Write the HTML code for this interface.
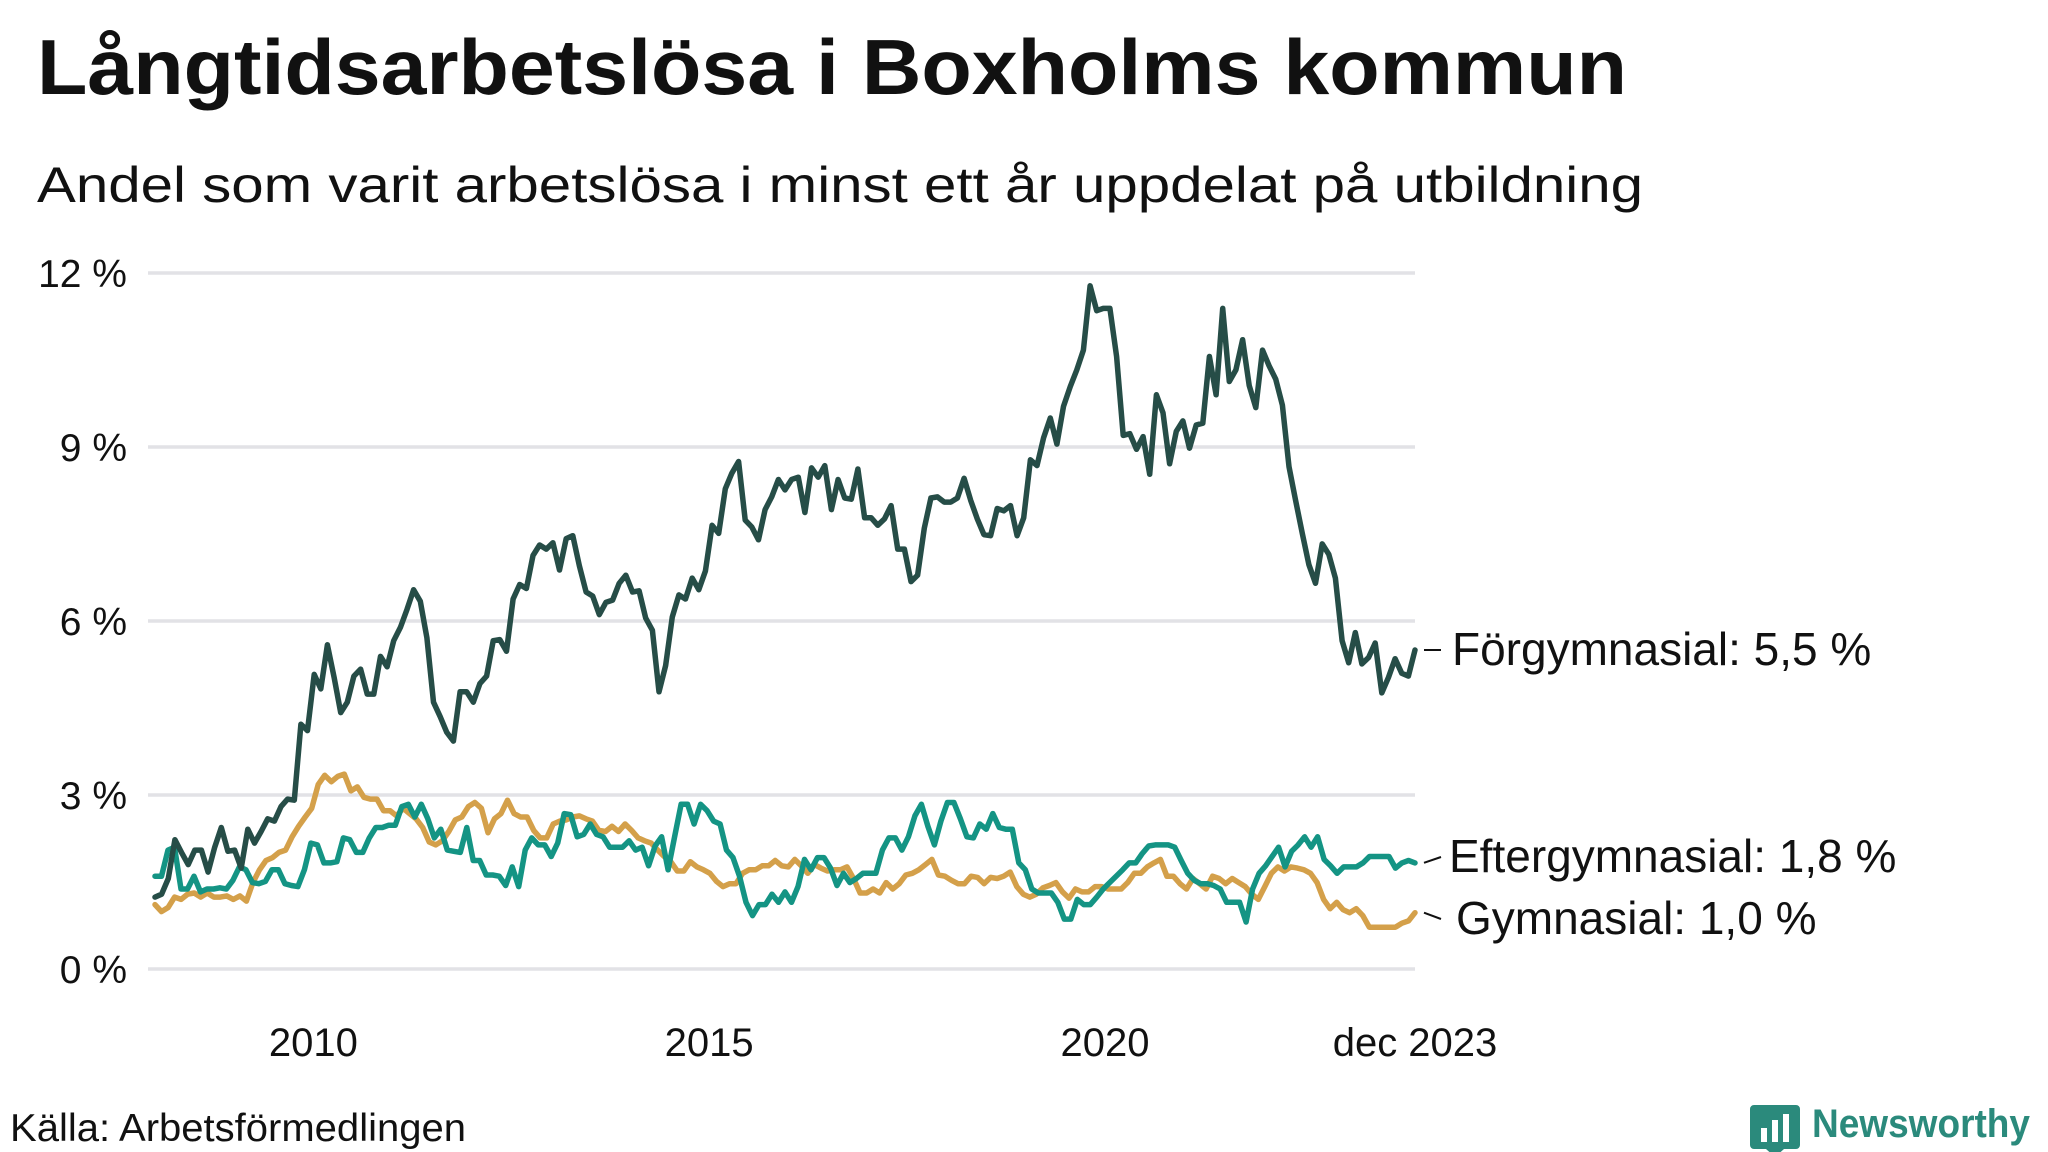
<!DOCTYPE html>
<html><head><meta charset="utf-8"><style>
html,body{margin:0;padding:0;background:#fff;}
svg{display:block;font-family:"Liberation Sans","DejaVu Sans",sans-serif;}
</style></head><body>
<svg id="chart" width="2048" height="1152" viewBox="0 0 2048 1152" xmlns="http://www.w3.org/2000/svg">
<text x="37" y="94" font-size="78" font-weight="bold" fill="#111" textLength="1590" lengthAdjust="spacingAndGlyphs">Långtidsarbetslösa i Boxholms kommun</text>
<text x="37" y="202" font-size="50" fill="#111" textLength="1606" lengthAdjust="spacingAndGlyphs">Andel som varit arbetslösa i minst ett år uppdelat på utbildning</text>
<g id="grid"></g><g id="series"></g><g id="labels"></g>
<text x="10" y="1141" font-size="39" fill="#111" textLength="456" lengthAdjust="spacingAndGlyphs">Källa: Arbetsförmedlingen</text>
<g>
<path d="M1754 1105 h42 a4 4 0 0 1 4 4 v36 a4 4 0 0 1 -4 4 h-12 l-9 8 l-9 -8 h-12 a4 4 0 0 1 -4 -4 v-36 a4 4 0 0 1 4 -4z" fill="#2b8a7c"/>
<rect x="1761" y="1128" width="6" height="14" fill="#fff"/><rect x="1772" y="1120" width="6" height="22" fill="#fff"/><rect x="1783" y="1114" width="6" height="28" fill="#fff"/>
<text x="1812" y="1137" font-size="40" font-weight="bold" fill="#2b8a7c" textLength="218" lengthAdjust="spacingAndGlyphs">Newsworthy</text>
</g>
</svg>
<script>
const yTicks=[0,3,6,9,12];
const xTickLabels=["2010","2015","2020","dec 2023"];
const xTickMonths=[24,84,144,191];
const forgymnasial=[1.24,1.29,1.56,2.23,2.01,1.80,2.05,2.05,1.67,2.10,2.44,2.03,2.05,1.74,2.41,2.17,2.37,2.59,2.55,2.80,2.93,2.91,4.22,4.11,5.08,4.83,5.59,5.03,4.42,4.60,5.05,5.17,4.74,4.74,5.39,5.21,5.66,5.89,6.20,6.54,6.34,5.71,4.60,4.35,4.08,3.93,4.78,4.78,4.60,4.92,5.05,5.66,5.68,5.48,6.38,6.63,6.56,7.13,7.31,7.24,7.35,6.88,7.42,7.47,6.95,6.50,6.43,6.11,6.32,6.36,6.65,6.79,6.50,6.52,6.05,5.84,4.78,5.23,6.07,6.45,6.38,6.74,6.54,6.86,7.65,7.51,8.28,8.55,8.75,7.74,7.62,7.40,7.92,8.14,8.44,8.26,8.44,8.48,7.87,8.64,8.48,8.68,7.92,8.44,8.12,8.10,8.62,7.78,7.78,7.65,7.76,7.99,7.24,7.24,6.68,6.79,7.60,8.12,8.14,8.05,8.05,8.12,8.46,8.08,7.76,7.49,7.47,7.94,7.90,7.99,7.47,7.78,8.78,8.68,9.16,9.50,9.05,9.70,10.04,10.33,10.67,11.78,11.35,11.39,11.39,10.56,9.20,9.23,8.96,9.18,8.53,9.90,9.59,8.71,9.27,9.45,8.98,9.38,9.41,10.56,9.90,11.39,10.13,10.33,10.85,10.06,9.68,10.67,10.40,10.17,9.72,8.66,8.08,7.51,6.97,6.65,7.33,7.15,6.74,5.66,5.28,5.80,5.26,5.37,5.62,4.76,5.03,5.35,5.10,5.05,5.50];
const eftergymnasial=[1.60,1.60,2.05,2.10,1.38,1.38,1.60,1.33,1.38,1.38,1.40,1.38,1.53,1.76,1.71,1.49,1.47,1.51,1.71,1.71,1.47,1.44,1.42,1.71,2.17,2.14,1.83,1.83,1.85,2.26,2.23,2.01,2.01,2.26,2.44,2.44,2.48,2.48,2.80,2.84,2.62,2.84,2.59,2.26,2.41,2.05,2.03,2.01,2.44,1.87,1.87,1.62,1.62,1.60,1.44,1.76,1.42,2.05,2.26,2.14,2.14,1.94,2.17,2.68,2.66,2.28,2.32,2.50,2.32,2.28,2.10,2.10,2.10,2.21,2.05,2.10,1.78,2.12,2.28,1.71,2.28,2.84,2.84,2.50,2.84,2.73,2.55,2.50,2.05,1.92,1.60,1.15,0.92,1.11,1.11,1.29,1.15,1.33,1.15,1.42,1.89,1.71,1.92,1.92,1.74,1.44,1.65,1.49,1.56,1.65,1.65,1.65,2.05,2.26,2.26,2.05,2.28,2.64,2.84,2.46,2.14,2.55,2.87,2.87,2.59,2.28,2.26,2.50,2.41,2.68,2.44,2.41,2.41,1.83,1.71,1.38,1.31,1.31,1.31,1.15,0.86,0.86,1.20,1.11,1.11,1.24,1.38,1.49,1.60,1.71,1.83,1.83,1.99,2.12,2.14,2.14,2.14,2.10,1.87,1.65,1.53,1.47,1.47,1.44,1.38,1.15,1.15,1.15,0.81,1.38,1.65,1.78,1.94,2.10,1.76,2.03,2.14,2.28,2.10,2.28,1.89,1.78,1.65,1.76,1.76,1.76,1.83,1.94,1.94,1.94,1.94,1.74,1.83,1.87,1.83];
const gymnasial=[1.11,0.99,1.06,1.24,1.20,1.29,1.31,1.24,1.31,1.24,1.24,1.26,1.20,1.26,1.17,1.49,1.71,1.87,1.92,2.01,2.05,2.28,2.46,2.62,2.77,3.18,3.34,3.23,3.32,3.36,3.07,3.14,2.96,2.93,2.93,2.73,2.73,2.64,2.77,2.68,2.59,2.44,2.19,2.14,2.21,2.37,2.57,2.62,2.80,2.87,2.77,2.35,2.59,2.68,2.91,2.68,2.62,2.62,2.39,2.26,2.26,2.50,2.55,2.57,2.62,2.64,2.59,2.55,2.39,2.37,2.46,2.37,2.50,2.39,2.26,2.21,2.17,2.05,1.94,1.85,1.69,1.69,1.85,1.76,1.71,1.65,1.51,1.42,1.47,1.47,1.65,1.71,1.71,1.78,1.78,1.87,1.78,1.76,1.89,1.78,1.65,1.80,1.74,1.69,1.71,1.71,1.76,1.56,1.31,1.31,1.38,1.31,1.49,1.38,1.47,1.62,1.65,1.71,1.80,1.89,1.62,1.60,1.53,1.47,1.47,1.60,1.58,1.47,1.58,1.56,1.60,1.67,1.42,1.29,1.24,1.29,1.40,1.44,1.49,1.33,1.22,1.38,1.33,1.33,1.42,1.42,1.38,1.38,1.38,1.49,1.65,1.65,1.76,1.83,1.89,1.60,1.60,1.47,1.38,1.56,1.47,1.38,1.60,1.56,1.47,1.56,1.49,1.42,1.29,1.20,1.42,1.65,1.76,1.69,1.76,1.74,1.71,1.65,1.49,1.20,1.04,1.15,1.02,0.97,1.04,0.92,0.72,0.72,0.72,0.72,0.72,0.79,0.83,0.97];
const seriesNames=["Förgymnasial","Eftergymnasial","Gymnasial"];
const endLabels=["Förgymnasial: 5,5 %","Eftergymnasial: 1,8 %","Gymnasial: 1,0 %"];

const NS="http://www.w3.org/2000/svg";
const X0=155,X1=1415,GX0=148,Y0=969,Y12=273;
function yScale(v){return Y0-(v/12)*(Y0-Y12);}
function xScale(i,n){return X0+(X1-X0)*i/(n-1);}
function xMonth(m){return X0+(X1-X0)*m/191;}
function mk(tag,attrs,parent){const e=document.createElementNS(NS,tag);for(const k in attrs)e.setAttribute(k,attrs[k]);parent.appendChild(e);return e;}
const grid=document.getElementById('grid'),ser=document.getElementById('series'),lab=document.getElementById('labels');
yTicks.forEach(t=>{
  const l=mk('line',{x1:GX0,x2:X1,y1:yScale(t),y2:yScale(t),stroke:'#e2e2e6','stroke-width':3.5},grid);
  
  
  const tx=mk('text',{x:127,y:yScale(t)+14,'text-anchor':'end','font-size':39,fill:'#111'},grid);
  tx.textContent=t+' %';
  
  
});
xTickLabels.forEach((s,i)=>{
  const tx=mk('text',{x:xMonth(xTickMonths[i]),y:1056,'text-anchor':'middle','font-size':40,fill:'#111'},grid);
  tx.textContent=s;
  
  
});
const all=[forgymnasial,eftergymnasial,gymnasial];
const colors=['#264d47','#149484','#d4a04a'];
const order=[2,1,0];
order.forEach(si=>{
  const d=all[si];
  const pts=d.map((v,i)=>xScale(i,d.length).toFixed(1)+','+yScale(v).toFixed(1)).join(' ');
  const p=mk('polyline',{points:pts,fill:'none',stroke:colors[si],'stroke-width':5.5,'stroke-linejoin':'round','stroke-linecap':'round'},ser);
  
  
});
const labelY=[650,857,919];
const labelX=[1452,1449,1456];
all.forEach((d,si)=>{
  const last=yScale(d[d.length-1]);
  const ly=labelY[si];
  const ln=mk('line',{x1:1424,x2:1441,y1:last,y2:ly,stroke:'#111','stroke-width':2},lab);
  
  
  const tx=mk('text',{x:labelX[si],y:ly+15,'font-size':46,fill:'#111'},lab);
  tx.textContent=endLabels[si];
  
  
});
</script>
</body></html>
